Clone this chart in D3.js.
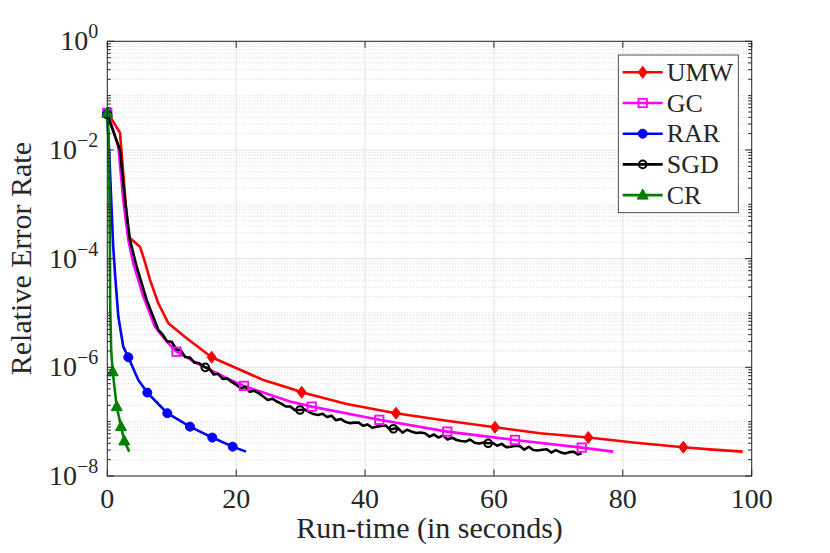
<!DOCTYPE html>
<html>
<head>
<meta charset="utf-8">
<script src="https://cdn.jsdelivr.net/npm/d3@7"></script>
<style>
  body { margin: 0; background: #fff; }
  svg { font-family: "Liberation Serif", "DejaVu Serif", serif; }
</style>
</head>
<body>
<svg width="830" height="553"></svg>
<script>
// run-time (s) and relative error
const umwLine = [
  [0, 4.6e-2], [0.57, 3.9e-2], [1.97, 2.06e-2], [3.26, 2.54e-4], [5.07, 1.66e-4],
  [5.74, 9.5e-5], [6.63, 4.06e-5], [7.91, 1.51e-5], [9.47, 6.5e-6], [12.32, 3.43e-6],
  [16.2, 1.53e-6], [20.08, 9.6e-7], [24.2, 5.86e-7], [28.35, 4.12e-7], [30.17, 3.48e-7],
  [37.15, 2.12e-7], [44.8, 1.43e-7], [52.67, 1.04e-7], [60.16, 7.9e-8], [67.15, 6.1e-8],
  [74.64, 5.1e-8], [82.0, 4.1e-8], [89.39, 3.39e-8], [94.0, 3.06e-8], [98.6, 2.81e-8]
];
const umwMarks = [[0, 4.6e-2], [16.2, 1.53e-6], [30.17, 3.48e-7], [44.8, 1.43e-7],
  [60.16, 7.9e-8], [74.64, 5.1e-8], [89.39, 3.39e-8]];

const gcLine = [
  [0, 4.8e-2], [0.57, 3.14e-2], [1.71, 1.15e-2], [2.48, 1.2e-3], [3.26, 2.21e-4],
  [4.03, 8.2e-5], [5.59, 2.0e-5], [7.4, 5.6e-6], [9.22, 2.97e-6], [10.74, 1.94e-6],
  [14.39, 1.11e-6], [18.53, 6.3e-7], [21.21, 4.55e-7], [28.35, 2.34e-7], [31.72, 1.89e-7],
  [42.21, 1.08e-7], [52.76, 6.56e-8], [63.27, 4.61e-8], [73.62, 3.33e-8], [78.52, 2.81e-8]
];
const gcMarks = [[0, 4.8e-2], [10.74, 1.94e-6], [21.21, 4.55e-7], [31.72, 1.89e-7],
  [42.21, 1.08e-7], [52.76, 6.56e-8], [63.27, 4.61e-8], [73.62, 3.33e-8]];

const rarLine = [
  [0, 4.6e-2], [0.35, 6.5e-3], [0.9, 1.8e-4], [1.19, 5.4e-5], [1.71, 8.6e-6],
  [2.48, 2.4e-6], [3.26, 1.53e-6], [4.81, 5.86e-7], [6.21, 3.43e-7], [9.31, 1.43e-7],
  [12.83, 8.1e-8], [16.29, 5.1e-8], [19.46, 3.47e-8], [21.52, 2.81e-8]
];
const rarMarks = [[0, 4.6e-2], [3.26, 1.53e-6], [6.21, 3.43e-7], [9.31, 1.43e-7],
  [12.83, 8.1e-8], [16.29, 5.1e-8], [19.46, 3.47e-8]];

// SGD is noisy, so it gets many more points
const sgdLine = [
  [0, 4.5e-2], [0.57, 2.88e-2], [1.97, 1.0e-2], [2.75, 1.2e-3], [3.52, 2.2e-4],
  [4.56, 7.1e-5], [6.11, 1.74e-5], [7.91, 4.9e-6], [8.6, 4.0e-6], [9.3, 3.0e-6],
  [10.0, 2.95e-6], [10.7, 2.15e-6], [11.4, 2.05e-6], [12.1, 1.55e-6], [12.8, 1.52e-6],
  [13.5, 1.22e-6], [14.2, 1.2e-6], [15.2, 1.0e-6], [15.8, 9.6e-7], [16.5, 7.4e-7],
  [17.2, 7.6e-7], [17.9, 6.1e-7], [18.6, 6.25e-7], [19.3, 5.4e-7], [20.0, 4.8e-7],
  [20.7, 4.1e-7], [21.4, 4.4e-7], [22.1, 3.55e-7], [22.8, 3.7e-7], [23.5, 3.35e-7],
  [24.2, 2.9e-7], [24.9, 2.5e-7], [25.6, 2.65e-7], [26.3, 2.35e-7], [27.0, 2.15e-7],
  [27.7, 1.9e-7], [28.4, 1.9e-7], [29.1, 1.63e-7], [29.9, 1.64e-7], [30.6, 1.68e-7],
  [31.3, 1.52e-7], [32.0, 1.38e-7], [32.7, 1.33e-7], [33.4, 1.4e-7], [34.1, 1.22e-7],
  [34.8, 1.29e-7], [35.5, 1.06e-7], [36.2, 1.12e-7], [36.9, 1.0e-7], [37.6, 9.4e-8],
  [38.3, 9.6e-8], [39.0, 9.6e-8], [39.7, 8.4e-8], [40.4, 8.9e-8], [41.1, 7.7e-8],
  [41.8, 8.1e-8], [42.5, 8.3e-8], [43.2, 8.5e-8], [43.9, 7.1e-8], [44.4, 7.4e-8],
  [45.1, 7.6e-8], [45.8, 6.3e-8], [46.5, 7.1e-8], [47.2, 6.6e-8], [47.9, 6.2e-8],
  [48.6, 6.3e-8], [49.3, 6.1e-8], [50.0, 5.3e-8], [50.7, 5.8e-8], [51.4, 5.1e-8],
  [52.1, 5.6e-8], [52.8, 4.7e-8], [53.5, 5.1e-8], [54.2, 4.6e-8], [54.9, 4.4e-8],
  [55.6, 4.3e-8], [56.3, 4.7e-8], [57.0, 4.1e-8], [57.7, 3.95e-8], [58.4, 4.15e-8],
  [59.1, 4.0e-8], [59.8, 4.1e-8], [60.5, 3.6e-8], [61.2, 3.9e-8], [61.9, 3.4e-8],
  [62.6, 3.45e-8], [63.3, 3.6e-8], [64.0, 3.55e-8], [64.7, 3.05e-8], [65.4, 3.45e-8],
  [66.1, 3.0e-8], [66.8, 2.95e-8], [67.5, 3.05e-8], [68.2, 3.1e-8], [68.9, 2.7e-8],
  [69.6, 3.0e-8], [70.3, 2.75e-8], [71.0, 2.6e-8], [71.7, 2.75e-8], [72.4, 2.8e-8],
  [73.0, 2.48e-8], [73.6, 2.63e-8]
];
const sgdMarks = [[0, 4.5e-2], [15.2, 1.0e-6], [29.9, 1.64e-7], [44.4, 7.4e-8], [59.1, 4.0e-8]];

const crLine = [
  [0, 4.8e-2], [0.25, 1.0e-2], [0.4, 2.2e-4], [0.45, 1.35e-5], [0.6, 2.1e-6],
  [0.84, 8.3e-7], [1.46, 1.89e-7], [2.13, 8.1e-8], [2.64, 4.42e-8], [3.41, 2.81e-8]
];
const crMarks = [[0, 4.8e-2], [0.84, 8.3e-7], [1.46, 1.89e-7], [2.13, 8.1e-8], [2.64, 4.42e-8]];

const seriesNames = ["UMW", "GC", "RAR", "SGD", "CR"];
const seriesColors = ["#ff0000", "#ff00ff", "#0000ff", "#000000", "#008000"];
const seriesLines = [umwLine, gcLine, rarLine, sgdLine, crLine];
const seriesMarks = [umwMarks, gcMarks, rarMarks, sgdMarks, crMarks];
const markerShapes = ["diamond", "square", "dot", "circle", "triangle"];

const xTicks = [0, 20, 40, 60, 80, 100];
const yTickExps = [0, -2, -4, -6, -8];

const svg = d3.select("svg");
const margin = { left: 107.3, top: 41.3, right: 78.3, bottom: 77 };
const width = 830 - margin.left - margin.right;
const height = 553 - margin.top - margin.bottom;
const axisColor = "#262626";

const chart = svg.append("g")
  .attr("transform", `translate(${margin.left}, ${margin.top})`);

const xScale = d3.scaleLinear().domain([0, 100]).range([0, width]);
const yScale = d3.scaleLog().domain([1e-8, 1]).range([height, 0]);

// minor values: every k*10^e, minus the labelled decades
const minorVals = [];
for (let e = -8; e < 0; e++) {
  for (let k = 1; k <= 9; k++) {
    if (k === 1 && e % 2 === 0) continue;
    minorVals.push(k * Math.pow(10, e));
  }
}
const majorVals = yTickExps.map((e) => Math.pow(10, e));

// grid
chart.append("g").selectAll("line").data(minorVals).join("line")
  .attr("x1", 0).attr("x2", width)
  .attr("y1", (d) => yScale(d)).attr("y2", (d) => yScale(d))
  .attr("stroke", "#c8c8c8").attr("stroke-width", 0.8)
  .attr("stroke-dasharray", "1,2");
chart.append("g").selectAll("line").data(majorVals).join("line")
  .attr("x1", 0).attr("x2", width)
  .attr("y1", (d) => yScale(d)).attr("y2", (d) => yScale(d))
  .attr("stroke", "#e3e3e3").attr("stroke-width", 1);
chart.append("g").selectAll("line").data(xTicks).join("line")
  .attr("x1", (d) => xScale(d)).attr("x2", (d) => xScale(d))
  .attr("y1", 0).attr("y2", height)
  .attr("stroke", "#e3e3e3").attr("stroke-width", 1);

// curves
const line = d3.line().x((d) => xScale(d[0])).y((d) => yScale(d[1]));
const curves = chart.append("g");
seriesLines.forEach((data, i) => {
  curves.append("path")
    .datum(data)
    .attr("d", line)
    .attr("fill", "none")
    .attr("stroke", seriesColors[i])
    .attr("stroke-width", 2.6)
    .attr("stroke-linejoin", "round");
});

function drawMarker(g, shape, color, x, y) {
  if (shape === "diamond") {
    g.append("path").attr("d", `M${x},${y - 6} L${x + 4.5},${y} L${x},${y + 6} L${x - 4.5},${y} Z`)
      .attr("fill", color).attr("stroke", color).attr("stroke-width", 1);
  } else if (shape === "square") {
    g.append("rect").attr("x", x - 4.2).attr("y", y - 4.2).attr("width", 8.4).attr("height", 8.4)
      .attr("fill", "none").attr("stroke", color).attr("stroke-width", 1.8);
  } else if (shape === "dot") {
    g.append("circle").attr("cx", x).attr("cy", y).attr("r", 4.5)
      .attr("fill", color).attr("stroke", color);
  } else if (shape === "circle") {
    g.append("circle").attr("cx", x).attr("cy", y).attr("r", 3.8)
      .attr("fill", "none").attr("stroke", color).attr("stroke-width", 2);
  } else {
    g.append("path").attr("d", `M${x},${y - 6} L${x + 5.5},${y + 4} L${x - 5.5},${y + 4} Z`)
      .attr("fill", color).attr("stroke", color).attr("stroke-width", 1);
  }
}

const marks = chart.append("g");
seriesMarks.forEach((data, i) => {
  data.forEach((d) => drawMarker(marks, markerShapes[i], seriesColors[i], xScale(d[0]), yScale(d[1])));
});

// axes box and ticks (inward, both sides)
const frame = chart.append("g").attr("stroke", axisColor).attr("fill", "none");
frame.append("rect").attr("width", width).attr("height", height).attr("stroke-width", 1);
xTicks.forEach((t) => {
  frame.append("line").attr("x1", xScale(t)).attr("x2", xScale(t)).attr("y1", height).attr("y2", height - 6.5);
  frame.append("line").attr("x1", xScale(t)).attr("x2", xScale(t)).attr("y1", 0).attr("y2", 6.5);
});
majorVals.forEach((v) => {
  frame.append("line").attr("x1", 0).attr("x2", 6.5).attr("y1", yScale(v)).attr("y2", yScale(v));
  frame.append("line").attr("x1", width).attr("x2", width - 6.5).attr("y1", yScale(v)).attr("y2", yScale(v));
});
minorVals.forEach((v) => {
  frame.append("line").attr("x1", 0).attr("x2", 3.5).attr("y1", yScale(v)).attr("y2", yScale(v));
  frame.append("line").attr("x1", width).attr("x2", width - 3.5).attr("y1", yScale(v)).attr("y2", yScale(v));
});

// tick labels
chart.append("g").selectAll("text").data(xTicks).join("text")
  .attr("x", (d) => xScale(d))
  .attr("y", height + 32)
  .attr("text-anchor", "middle")
  .attr("font-size", 28)
  .attr("fill", axisColor)
  .text((d) => d);

const yLab = chart.append("g").selectAll("text").data(yTickExps).join("text")
  .attr("x", -9)
  .attr("y", (d) => yScale(Math.pow(10, d)) + 9)
  .attr("text-anchor", "end")
  .attr("font-size", 28)
  .attr("fill", axisColor);
yLab.append("tspan").text("10");
yLab.append("tspan").attr("dy", -12).attr("font-size", 20)
  .text((d) => (d < 0 ? "\u2212" + Math.abs(d) : d));

// axis titles
svg.append("text")
  .attr("x", margin.left + width / 2)
  .attr("y", 538)
  .attr("text-anchor", "middle")
  .attr("font-size", 30)
  .attr("fill", axisColor)
  .text("Run-time (in seconds)");

svg.append("text")
  .attr("transform", `translate(31, ${margin.top + height / 2}) rotate(-90)`)
  .attr("text-anchor", "middle")
  .attr("font-size", 30)
  .attr("fill", axisColor)
  .text("Relative Error Rate");

// legend
const legend = svg.append("g").attr("transform", "translate(618.3, 55)");
legend.append("rect").attr("width", 120).attr("height", 157.7)
  .attr("fill", "#fff").attr("stroke", axisColor).attr("stroke-width", 0.8);
seriesNames.forEach((name, i) => {
  const y = 17.3 + i * 30.7;
  legend.append("line").attr("x1", 4.4).attr("x2", 44.4).attr("y1", y).attr("y2", y)
    .attr("stroke", seriesColors[i]).attr("stroke-width", 2.6);
  drawMarker(legend, markerShapes[i], seriesColors[i], 24.4, y);
  legend.append("text").attr("x", 48.4).attr("y", y + 8.5)
    .attr("font-size", 26).attr("fill", axisColor).text(name);
});
</script>
</body>
</html>
